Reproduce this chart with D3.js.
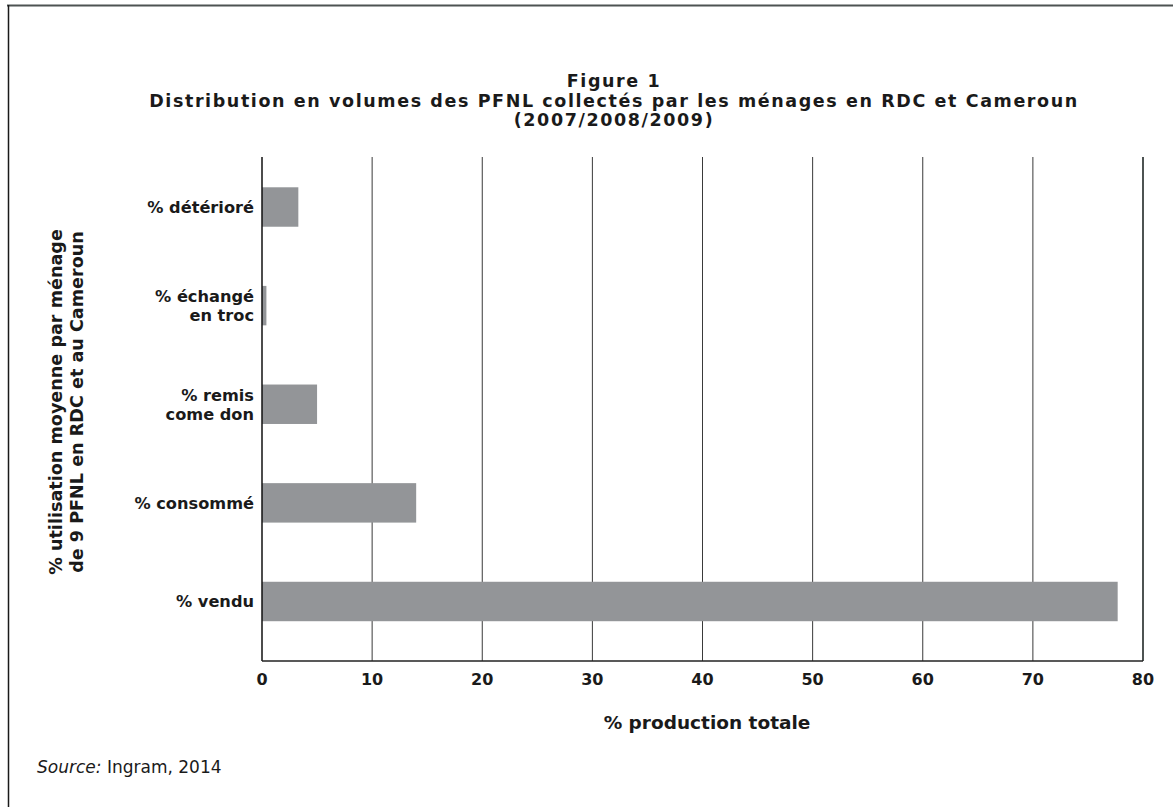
<!DOCTYPE html>
<html lang="fr">
<head>
    <meta charset="UTF-8">
    <title>Figure 1</title>
    <script src="https://cdn.jsdelivr.net/npm/d3@7/dist/d3.min.js"></script>
    <style>
        * {
            margin: 0;
            padding: 0;
        }

        body {
            background: #ffffff;
            font-family: "DejaVu Sans", sans-serif;
        }

        .bold {
            font-weight: 700;
            fill: #1a1a1a;
        }
    </style>
</head>
<body>

<div id="container"></div>

<script>

    "use strict";

    // data
    var categories = ['% détérioré', '% échangé\nen troc', '% remis\ncome don', '% consommé', '% vendu'];
    var values = [3.3, 0.4, 5.0, 14.0, 77.7];
    var xTicks = [0, 10, 20, 30, 40, 50, 60, 70, 80];
    var titleLines = ['Figure 1', 'Distribution en volumes des PFNL collectés par les ménages en RDC et Cameroun', '(2007/2008/2009)'];
    var yTitleLines = ['% utilisation moyenne par ménage', 'de 9 PFNL en RDC et au Cameroun'];

    (function() {

        var width = 1173,
            height = 807;

        var svg = d3.select('#container')
            .append('svg')
            .attr('width', width)
            .attr('height', height);

        // frame: top rule and left rule only
        svg.append('line')
            .attr('x1', 7).attr('x2', width)
            .attr('y1', 5.5).attr('y2', 5.5)
            .attr('stroke', '#4d5352')
            .attr('stroke-width', 2);

        svg.append('line')
            .attr('x1', 8.5).attr('x2', 8.5)
            .attr('y1', 5).attr('y2', height)
            .attr('stroke', '#1a1a1a')
            .attr('stroke-width', 1.5);

        // title (three separate lines)
        svg.append('g')
            .selectAll('text')
            .data(titleLines)
            .enter()
            .append('text')
            .attr('class', 'bold')
            .attr('text-anchor', 'middle')
            .style('font-size', '17.5px')
            .style('letter-spacing', '1.6px')
            .attr('x', 614)
            .attr('y', function(d, i) { return 87 + i * 19.5; })
            .text(function(d) { return d; });

        var plot = { left: 262, right: 1143, top: 157, bottom: 661 };

        var x = d3.scaleLinear()
            .domain([0, 80])
            .range([plot.left, plot.right]);

        var y = d3.scaleBand()
            .domain(categories)
            .range([plot.top + 0.7, plot.bottom - 10.2])
            .paddingInner(0.6)
            .paddingOuter(0.3);

        // vertical grid lines
        svg.append('g')
            .selectAll('line')
            .data(xTicks.slice(1))
            .enter()
            .append('line')
            .attr('x1', function(d) { return x(d); })
            .attr('x2', function(d) { return x(d); })
            .attr('y1', plot.top)
            .attr('y2', plot.bottom)
            .attr('stroke', function(d) { return d === 80 ? '#4d5352' : '#3a3a3a'; })
            .attr('stroke-width', function(d) { return d === 80 ? 2 : 1; });

        // bars
        svg.append('g')
            .selectAll('rect')
            .data(values)
            .enter()
            .append('rect')
            .attr('x', x(0))
            .attr('y', function(d, i) { return y(categories[i]); })
            .attr('width', function(d) { return x(d) - x(0); })
            .attr('height', y.bandwidth())
            .style('fill', '#939598');

        // axes lines
        svg.append('line')
            .attr('x1', plot.left).attr('x2', plot.left)
            .attr('y1', plot.top).attr('y2', plot.bottom)
            .attr('stroke', '#111')
            .attr('stroke-width', 1.5);

        svg.append('line')
            .attr('x1', plot.left).attr('x2', plot.right)
            .attr('y1', plot.bottom).attr('y2', plot.bottom)
            .attr('stroke', '#222')
            .attr('stroke-width', 1.5);

        // x tick labels
        svg.append('g')
            .selectAll('text')
            .data(xTicks)
            .enter()
            .append('text')
            .attr('class', 'bold')
            .attr('x', function(d) { return x(d); })
            .attr('y', 685)
            .attr('text-anchor', 'middle')
            .style('font-size', '16px')
            .text(function(d) { return d; });

        // y category labels
        var cat = svg.append('g')
            .selectAll('text')
            .data(categories)
            .enter()
            .append('text')
            .attr('class', 'bold')
            .attr('text-anchor', 'end')
            .style('font-size', '16.2px');

        cat.selectAll('tspan')
            .data(function(d) {
                var parts = d.split('\n');
                return parts.map(function(p, j) { return { t: p, j: j, n: parts.length, c: d }; });
            })
            .enter()
            .append('tspan')
            .attr('x', 254)
            .attr('y', function(p) {
                var cy = y(p.c) + y.bandwidth() / 2;
                return cy + 6 + (p.j - (p.n - 1) / 2) * 19;
            })
            .text(function(p) { return p.t; });

        // x axis title
        svg.append('text')
            .attr('class', 'bold')
            .attr('x', 707)
            .attr('y', 729)
            .attr('text-anchor', 'middle')
            .style('font-size', '18.5px')
            .text('% production totale');

        // y axis title
        svg.append('text')
            .attr('class', 'bold')
            .attr('transform', 'translate(0, 402) rotate(-90)')
            .attr('text-anchor', 'middle')
            .style('font-size', '17.6px')
            .selectAll('tspan')
            .data(yTitleLines)
            .enter()
            .append('tspan')
            .attr('x', 0)
            .attr('y', function(d, i) { return 62 + i * 21; })
            .text(function(d) { return d; });

        // source
        var src = svg.append('text')
            .attr('x', 37)
            .attr('y', 773)
            .style('font-size', '17px')
            .style('fill', '#1a1a1a');

        src.append('tspan')
            .style('font-style', 'italic')
            .text('Source:');

        src.append('tspan')
            .text(' Ingram, 2014');

    })();

</script>
</body>
</html>
